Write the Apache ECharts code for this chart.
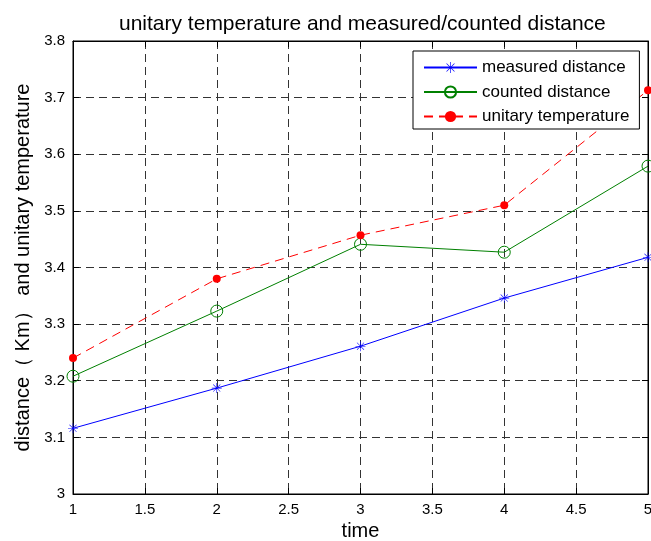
<!DOCTYPE html>
<html><head><meta charset="utf-8">
<script src="https://cdn.jsdelivr.net/npm/echarts@6/dist/echarts.min.js"></script>
<style>html,body{margin:0;padding:0;background:#fff}#c{width:651px;height:541px}</style>
</head><body><div id="c"></div>
<script>
const timeValues = [1, 2, 3, 4, 5];
const measuredDistance = [3.116, 3.187, 3.261, 3.346, 3.418];
const countedDistance = [3.208, 3.323, 3.441, 3.427, 3.579];
const unitaryTemperature = [3.240, 3.380, 3.457, 3.510, 3.713];
const seriesNames = ['measured distance', 'counted distance', 'unitary temperature'];

const FONT = 'Liberation Sans, Arial, sans-serif';
const asterisk = 'path://M9.4,0 H10.6 V20 H9.4 Z M0,9.4 H20 V10.6 H0 Z M2.5,3.3 L3.3,2.5 L17.5,16.7 L16.7,17.5 Z M16.7,2.5 L17.5,3.3 L3.3,17.5 L2.5,16.7 Z';

function pairs(vals){ return timeValues.map((t,i)=>[t, vals[i]]); }

const baseX = {min:1,max:5,interval:0.5};
const baseY = {min:3,max:3.8,interval:0.1};
const gridDash = {color:'#333',type:[8,5],width:1};
const chart = echarts.init(document.getElementById('c'));
chart.setOption({
  animation:false,
  backgroundColor:'#fff',
  title:{text:'unitary temperature and measured/counted distance',left:114,top:9,
    textStyle:{fontFamily:FONT,fontSize:21,fontWeight:'normal',color:'#000'}},
  grid:{left:73,right:3,top:41,bottom:47,show:true,borderColor:'#000',borderWidth:1,
    outerBoundsMode:'none',containLabel:false},
  legend:{
    orient:'vertical',left:413,top:51,
    data:seriesNames,
    selectedMode:false,
    backgroundColor:'#fff',borderColor:'#000',borderWidth:1,
    padding:[8,10,4,10],itemGap:7.5,itemWidth:53,itemHeight:14,
    textStyle:{fontFamily:FONT,fontSize:17,color:'#000'}
  },
  xAxis:[
    Object.assign({type:'value',position:'bottom',name:'time',nameLocation:'middle',nameGap:27,
      nameTextStyle:{fontFamily:FONT,fontSize:20,color:'#000'},
      axisLine:{lineStyle:{color:'#000'}},
      axisTick:{inside:true,length:6,lineStyle:{color:'#000'}},
      axisLabel:{fontFamily:FONT,fontSize:15,color:'#000',margin:8},
      splitLine:{show:true,lineStyle:gridDash}},baseX),
    Object.assign({type:'value',position:'top',
      axisLine:{lineStyle:{color:'#000'}},
      axisTick:{inside:true,length:6,lineStyle:{color:'#000'}},
      axisLabel:{show:false},splitLine:{show:false}},baseX)
  ],
  yAxis:[
    Object.assign({type:'value',position:'left',name:'distance（ Km） and unitary temperature',nameLocation:'middle',nameGap:36,
      nameTextStyle:{fontFamily:FONT,fontSize:20,color:'#000'},
      axisLine:{show:true,lineStyle:{color:'#000'}},
      axisTick:{show:true,inside:true,length:6,lineStyle:{color:'#000'}},
      axisLabel:{fontFamily:FONT,fontSize:15,color:'#000',margin:8},
      splitLine:{show:true,lineStyle:gridDash}},baseY),
    Object.assign({type:'value',position:'right',
      axisLine:{show:true,lineStyle:{color:'#000'}},
      axisTick:{show:true,inside:true,length:6,lineStyle:{color:'#000'}},
      axisLabel:{show:false},splitLine:{show:false}},baseY)
  ],
  series:[
    {name:seriesNames[0],type:'line',data:pairs(measuredDistance),symbol:asterisk,symbolSize:10,
      color:'#0000ff',lineStyle:{color:'#0000ff',width:1},itemStyle:{color:'#0000ff',borderWidth:0}},
    {name:seriesNames[1],type:'line',data:pairs(countedDistance),symbol:'circle',symbolSize:12,
      color:'#008000',lineStyle:{color:'#008000',width:1},itemStyle:{color:'rgba(255,255,255,0)',borderColor:'#008000',borderWidth:1}},
    {name:seriesNames[2],type:'line',data:pairs(unitaryTemperature),symbol:'circle',symbolSize:8,
      color:'#ff0000',lineStyle:{color:'#ff0000',width:1,type:[9,6]},itemStyle:{color:'#ff0000',borderWidth:0}}
  ]
});
</script></body></html>
